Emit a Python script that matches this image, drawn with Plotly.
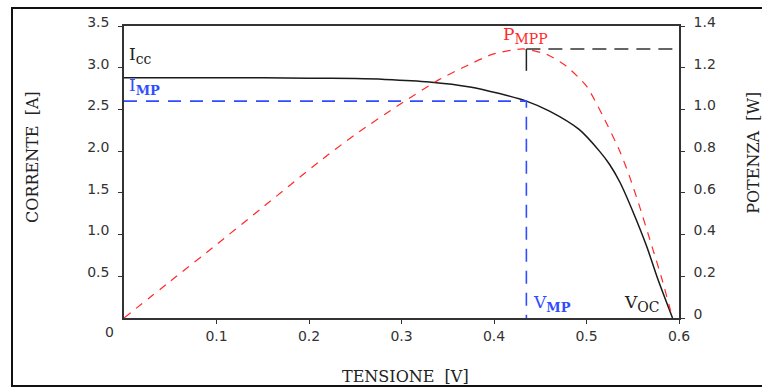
import plotly.graph_objects as go

# ---- data ----
V_iv = [0, 0.05, 0.10, 0.15, 0.20, 0.25, 0.282, 0.330, 0.374, 0.406, 0.435,
        0.460, 0.492, 0.514, 0.525, 0.536, 0.550, 0.565, 0.577, 0.593]
I_iv = [2.88, 2.88, 2.88, 2.88, 2.875, 2.87, 2.86, 2.83, 2.77, 2.69, 2.60,
        2.48, 2.26, 2.00, 1.84, 1.63, 1.28, 0.86, 0.47, 0.0]

V_p = [0, 0.05, 0.10, 0.147, 0.2117, 0.25, 0.298, 0.341, 0.370, 0.398, 0.431,
       0.457, 0.478, 0.500, 0.517, 0.536, 0.546, 0.557, 0.571, 0.582, 0.593]
P_p = [0, 0.176, 0.352, 0.52, 0.752, 0.88, 1.024, 1.144, 1.208, 1.264, 1.29,
       1.264, 1.208, 1.112, 0.975, 0.80, 0.685, 0.54, 0.34, 0.18, 0.0]

V_MP = 0.435
I_MP = 2.60
P_MPP = 1.29
V_MAX = 0.6

x_ticks = [0.1, 0.2, 0.3, 0.4, 0.5, 0.6]
yl_ticks = [0.5, 1.0, 1.5, 2.0, 2.5, 3.0, 3.5]
yr_ticks = [0, 0.2, 0.4, 0.6, 0.8, 1.0, 1.2, 1.4]

BLUE = "#2f4dff"
RED = "#ff2a2a"
AX = "#333333"
TICKFONT = dict(family="DejaVu Sans", size=14, color="#333333")
SERIF = "DejaVu Serif"

fig = go.Figure()

# I-V curve
fig.add_trace(go.Scatter(x=V_iv, y=I_iv, mode="lines",
                         line=dict(color="#1a1a1a", width=1.5, shape="spline", smoothing=0.8),
                         hoverinfo="skip", showlegend=False))
# IMP / VMP dashed guides
fig.add_trace(go.Scatter(x=[0, V_MP, V_MP], y=[I_MP, I_MP, 0], mode="lines",
                         line=dict(color=BLUE, width=1.6, dash="13px,9px"),
                         hoverinfo="skip", showlegend=False))
# Power curve (right axis)
fig.add_trace(go.Scatter(x=V_p, y=P_p, mode="lines", yaxis="y2",
                         line=dict(color=RED, width=1.2, dash="8px,7px", shape="spline", smoothing=0.6),
                         hoverinfo="skip", showlegend=False))
# PMPP marker: short vertical + dashed horizontal to right axis
fig.add_trace(go.Scatter(x=[V_MP, V_MP], y=[P_MPP, P_MPP - 0.105], mode="lines", yaxis="y2",
                         line=dict(color="#222222", width=1.5),
                         hoverinfo="skip", showlegend=False))
fig.add_trace(go.Scatter(x=[V_MP, V_MAX], y=[P_MPP, P_MPP], mode="lines", yaxis="y2",
                         line=dict(color="#333333", width=1.6, dash="14px,8px"),
                         hoverinfo="skip", showlegend=False))

ann = []
lab = dict(family=SERIF, size=17)
SUB = "<sub><span style='font-size:14px'>{}</span></sub>"
SUBB = "<sub><b><span style='font-size:13px'>{}</span></b></sub>"
ann.append(dict(x=0.003, y=3.15, xref="x", yref="y", xanchor="left", yanchor="middle",
                text="I" + SUB.format("cc"), showarrow=False, font=dict(lab, color="#222222")))
ann.append(dict(x=0.003, y=2.77, xref="x", yref="y", xanchor="left", yanchor="middle",
                text="I" + SUBB.format("MP"), showarrow=False, font=dict(lab, color=BLUE)))
ann.append(dict(x=0.408, y=1.355, xref="x", yref="y2", xanchor="left", yanchor="middle",
                text="P" + SUB.format("MPP"), showarrow=False, font=dict(lab, color=RED)))
ann.append(dict(x=0.4395, y=0.17, xref="x", yref="y", xanchor="left", yanchor="middle",
                text="V" + SUBB.format("MP"), showarrow=False, font=dict(lab, color=BLUE)))
ann.append(dict(x=0.581, y=0.17, xref="x", yref="y", xanchor="right", yanchor="middle",
                text="V" + SUB.format("OC"), showarrow=False, font=dict(lab, color="#222222")))
# origin label
ann.append(dict(x=(109 - 124) / 555, y=(318 - 332) / 292, xref="paper", yref="paper",
                xanchor="center", yanchor="middle",
                text="0", showarrow=False, font=TICKFONT))
# axis titles
ann.append(dict(x=0.508, y=-0.202, xref="paper", yref="paper", xanchor="center", yanchor="middle",
                text="TENSIONE  [V]", showarrow=False, font=dict(family=SERIF, size=16, color="#222222")))
ann.append(dict(x=-0.166, y=0.551, xref="paper", yref="paper", xanchor="center", yanchor="middle",
                text="CORRENTE  [A]", textangle=-90, showarrow=False,
                font=dict(family=SERIF, size=16, color="#222222")))
ann.append(dict(x=1.133, y=0.565, xref="paper", yref="paper", xanchor="center", yanchor="middle",
                text="POTENZA  [W]", textangle=-90, showarrow=False,
                font=dict(family=SERIF, size=16, color="#222222")))

fig.update_layout(
    width=762, height=388,
    margin=dict(l=124, r=83, t=26, b=70),
    paper_bgcolor="white", plot_bgcolor="white",
    showlegend=False, hovermode=False,
    xaxis=dict(range=[0, V_MAX], tickvals=x_ticks, ticktext=[str(v) for v in x_ticks],
               showgrid=False, zeroline=False, showline=True, linecolor=AX, linewidth=1.6,
               mirror=True, ticks="outside", ticklen=4, tickcolor=AX, tickfont=TICKFONT),
    yaxis=dict(range=[0, 3.5], tickvals=yl_ticks, ticktext=[f"{v:.1f}" for v in yl_ticks],
               showgrid=False, zeroline=False, showline=True, linecolor=AX, linewidth=1.6,
               ticks="outside", ticklen=4, tickcolor=AX, tickfont=TICKFONT,
               ticklabelstandoff=6, ticklabelshift=-4),
    yaxis2=dict(range=[0, 1.4], tickvals=yr_ticks,
                ticktext=["0"] + [f"{v:.1f}" for v in yr_ticks[1:]],
                overlaying="y", side="right",
                showgrid=False, zeroline=False, showline=True, linecolor=AX, linewidth=1.6,
                ticks="outside", ticklen=4, tickcolor=AX, tickfont=TICKFONT,
                ticklabelstandoff=6, ticklabelshift=-4),
    annotations=ann,
    shapes=[dict(type="rect", xref="paper", yref="paper",
                 x0=(12 - 124) / 555, x1=(775 - 124) / 555,
                 y0=(318 - 386) / 292, y1=(318 - 8) / 292,
                 line=dict(color="#111111", width=2), layer="below")],
)

fig.write_html("out.html")
